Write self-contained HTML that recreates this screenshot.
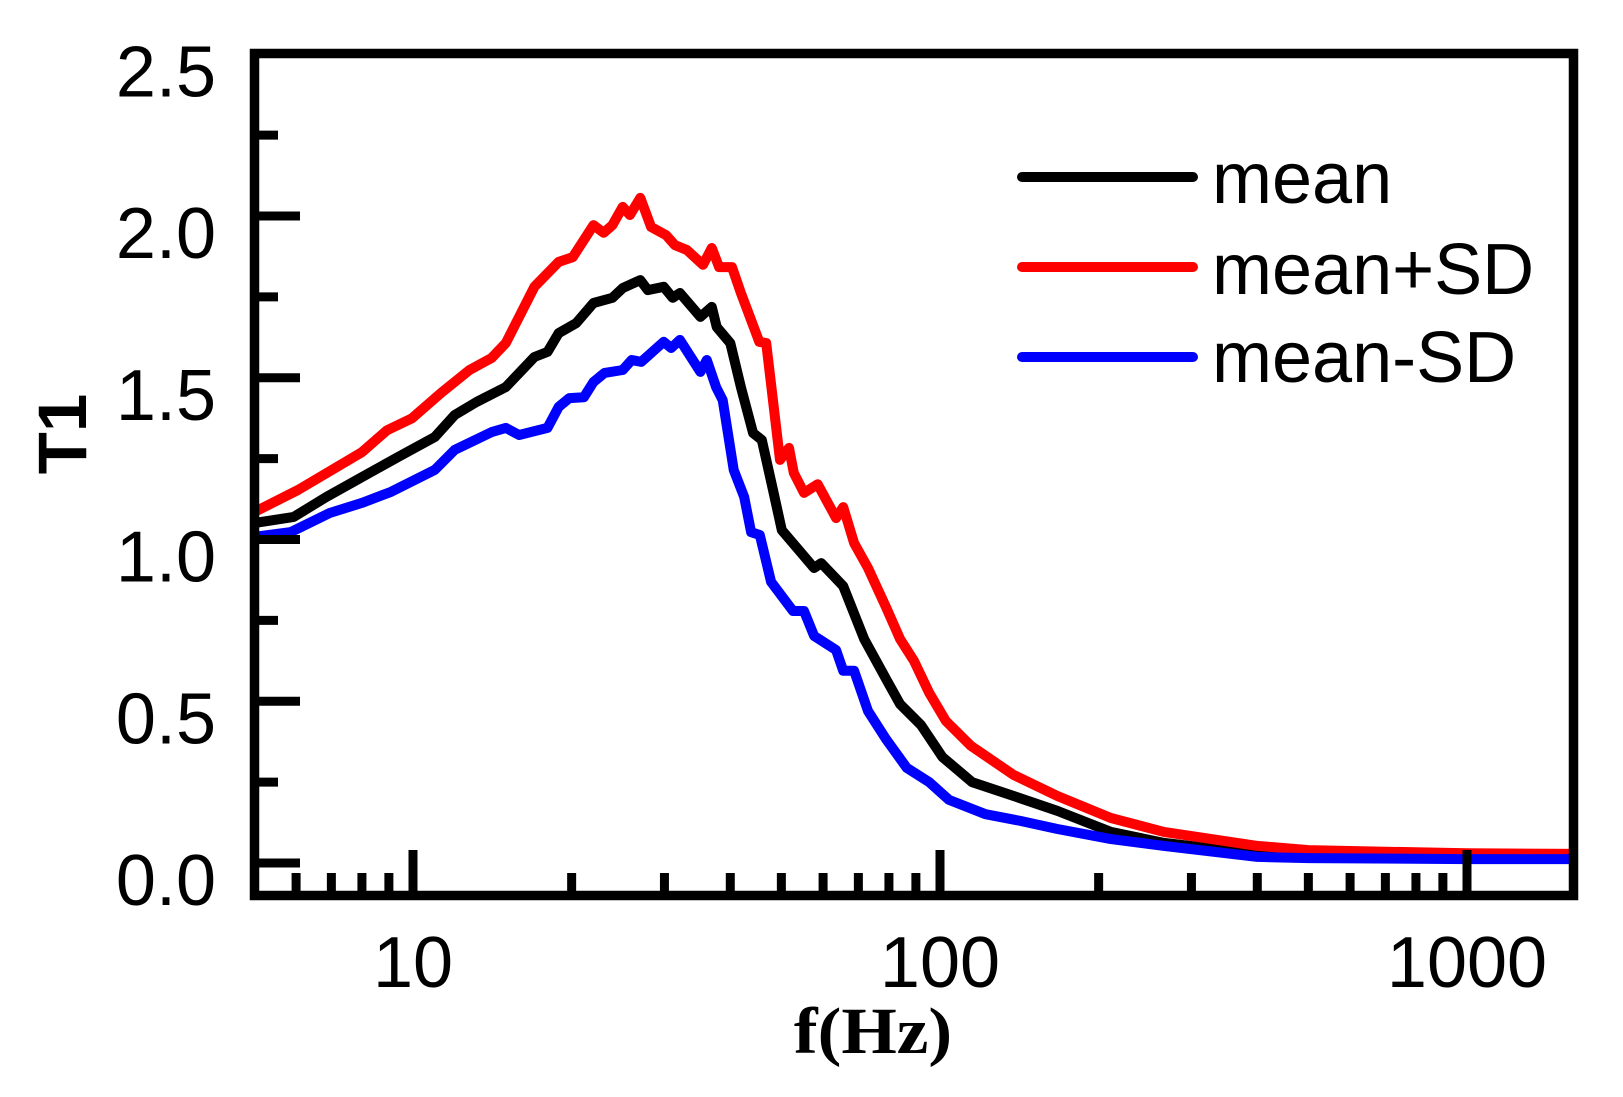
<!DOCTYPE html>
<html><head><meta charset="utf-8"><style>
html,body{margin:0;padding:0;background:#fff;}
svg{display:block;}
text{font-family:"Liberation Sans",Arial,sans-serif;}
</style></head><body>
<svg id="chart" width="1623" height="1097" viewBox="0 0 1623 1097" xmlns="http://www.w3.org/2000/svg">
<g id="series"></g>
<rect x="254.5" y="53.5" width="1319" height="842" fill="none" stroke="#000" stroke-width="9.5"/>
<g id="ticks"></g>
<g id="labels"></g>
<text transform="translate(86,434) rotate(-90)" text-anchor="middle" font-weight="bold" font-size="69">T1</text>
<text transform="translate(873,1053) scale(1.08,1)" text-anchor="middle" font-weight="bold" font-size="66" style="font-family:'Liberation Serif','Times New Roman',serif">f(Hz)</text>
<g>
  <line x1="1022" y1="177" x2="1193" y2="177" stroke="#000" stroke-width="10" stroke-linecap="round"/>
  <text x="1212" y="203" font-size="72">mean</text>
  <line x1="1022" y1="267" x2="1193" y2="267" stroke="#ff0000" stroke-width="10" stroke-linecap="round"/>
  <text x="1212" y="294" font-size="72">mean+SD</text>
  <line x1="1022" y1="357" x2="1193" y2="357" stroke="#0000ff" stroke-width="10" stroke-linecap="round"/>
  <text x="1212" y="382" font-size="72">mean-SD</text>
</g>
</svg>
<script>
const redF = [5.0,6.05,8.0,8.93,9.96,11.3,12.8,14.1,15.0,17.0,18.9,20.1,22.0,23.0,23.9,25.0,25.8,27.0,28.3,30.2,31.4,33.1,35.5,36.9,38.1,40.3,41.9,45.4,46.8,49.7,51.7,52.8,55.2,58.6,63.5,65.5,68.7,73.0,79.0,84.0,89.3,95.4,102.6,114.5,138,167,211,266,400,500,700,1000,1600];
const redV = [1.085,1.153,1.27,1.338,1.375,1.453,1.524,1.561,1.607,1.781,1.858,1.873,1.972,1.948,1.972,2.028,2.003,2.056,1.966,1.941,1.910,1.895,1.849,1.901,1.842,1.842,1.762,1.611,1.607,1.246,1.283,1.206,1.144,1.171,1.066,1.100,0.989,0.912,0.791,0.692,0.624,0.526,0.439,0.362,0.272,0.207,0.139,0.096,0.053,0.040,0.035,0.030,0.028];
const meanF = [5.0,5.94,6.84,8.0,9.37,11.0,12.0,13.2,15.0,17.0,18.0,18.9,20.4,22.0,23.9,25.0,27.0,27.9,29.9,31.1,32.1,35.1,36.9,37.7,40.0,41.9,44.2,45.9,48.2,50.1,57.7,59.5,65.5,71.8,79.0,84.0,92.0,101,115,138,167,211,266,400,500,1000,1600];
const meanV = [1.051,1.070,1.131,1.193,1.255,1.317,1.385,1.425,1.471,1.564,1.580,1.638,1.669,1.731,1.747,1.777,1.802,1.771,1.781,1.747,1.762,1.688,1.719,1.657,1.607,1.471,1.329,1.308,1.153,1.029,0.912,0.927,0.856,0.692,0.569,0.491,0.427,0.328,0.250,0.207,0.161,0.096,0.062,0.028,0.022,0.018,0.016];
const blueF = [5.0,5.86,6.95,8.0,9.08,11.0,12.0,14.1,15.0,15.9,18.0,18.9,19.8,21.1,22.0,23.1,25.0,26.0,27.1,29.9,30.9,32.1,35.1,36.1,37.6,38.7,40.6,42.5,43.8,45.5,47.8,52.6,55.2,57.7,63.5,65.5,68.7,73.0,79.0,86.5,95.4,104,122,142,167,211,266,400,500,1000,1600];
const blueV = [1.008,1.023,1.082,1.113,1.147,1.215,1.277,1.332,1.345,1.323,1.345,1.410,1.437,1.440,1.487,1.515,1.524,1.555,1.549,1.611,1.592,1.617,1.518,1.555,1.471,1.431,1.215,1.131,1.023,1.014,0.869,0.779,0.779,0.702,0.658,0.594,0.594,0.470,0.383,0.294,0.250,0.195,0.151,0.130,0.105,0.074,0.053,0.019,0.015,0.012,0.012];
const yTickValues = [0,0.5,1.0,1.5,2.0,2.5];
const yTickLabels = ["0.0","0.5","1.0","1.5","2.0","2.5"];
const yMinorValues = [0.25,0.75,1.25,1.75,2.25];
const xTickValues = [10,100,1000];
const xTickLabels = ["10","100","1000"];

const NS = "http://www.w3.org/2000/svg";
function xScale(f){ return 413 + 527*(Math.log10(f) - 1); }
function yScale(v){ return 863 - 323.5*v; }
function mk(tag, attrs, parent){
  const el = document.createElementNS(NS, tag);
  for (const k in attrs) el.setAttribute(k, attrs[k]);
  parent.appendChild(el);
  return el;
}
const series = document.getElementById('series');
function drawLine(F, V, color, name){
  let d = '';
  for (let i=0;i<F.length;i++){ d += (i?'L':'M') + xScale(F[i]).toFixed(1) + ',' + yScale(V[i]).toFixed(1); }
  const p = mk('path', {d:d, fill:'none', stroke:color, 'stroke-width':10, 'stroke-linejoin':'round'}, series);
  
  
}
drawLine(meanF, meanV, '#000000', 'series-mean');
drawLine(redF, redV, '#ff0000', 'series-mean-plus-sd');
drawLine(blueF, blueV, '#0000ff', 'series-mean-minus-sd');

const ticks = document.getElementById('ticks');
yTickValues.forEach(v=>{
  if (v >= 2.5) return;
  const t = mk('line', {x1:259, x2:300, y1:yScale(v), y2:yScale(v), stroke:'#000', 'stroke-width':9}, ticks);
  
  
});
yMinorValues.forEach(v=>{
  const t = mk('line', {x1:259, x2:278, y1:yScale(v), y2:yScale(v), stroke:'#000', 'stroke-width':9}, ticks);
  
  
});
[1,10,100,1000].forEach(dec=>{
  for (let m=1;m<=9;m++){
    const f = dec*m;
    if (f < 5.5 || f > 1590) continue;
    const major = (m===1);
    const t = mk('line', {x1:xScale(f), x2:xScale(f), y1:891, y2: major?850:873, stroke:'#000', 'stroke-width':9}, ticks);
    
    
  }
});
const labels = document.getElementById('labels');
yTickValues.forEach((v,i)=>{
  const t = mk('text', {x:216, y:yScale(v)+42, 'text-anchor':'end', 'font-size':72}, labels);
  t.textContent = yTickLabels[i];
  
  
});
xTickValues.forEach((f,i)=>{
  const t = mk('text', {x:xScale(f), y:987, 'text-anchor':'middle', 'font-size':72}, labels);
  t.textContent = xTickLabels[i];
  
  
});
</script>
</body></html>
